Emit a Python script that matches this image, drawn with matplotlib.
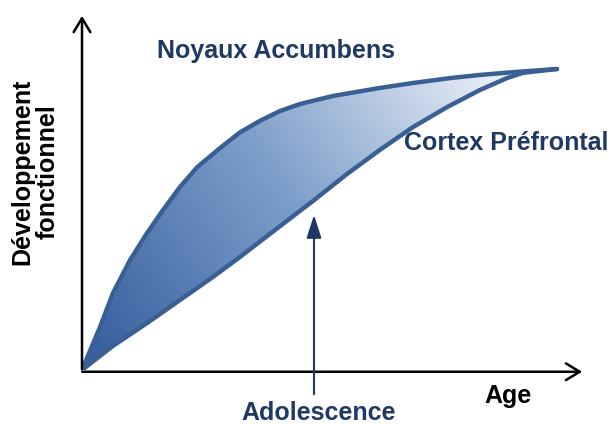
import matplotlib.pyplot as plt
import numpy as np
from matplotlib.colors import LinearSegmentedColormap
from matplotlib.patches import Polygon

# courbe des noyaux accumbens (age, developpement)
age_accumbens = [0, 0.72, 1.24, 1.92, 2.6, 3.24, 3.92, 4.6, 5.52, 6.32, 7.12, 7.92, 8.72,
                 10.04, 11.92, 13.24, 14.72, 15.92, 17.24, 19.0]
dev_accumbens = [0, 12.3, 22.0, 31.4, 39.1, 45.7, 52.3, 57.9, 63.4, 67.9, 71.2, 74.0, 76.0,
                 78.3, 80.6, 82.0, 83.4, 84.3, 85.1, 86.0]

# courbe du cortex prefrontal
age_cortex = [0, 1.24, 2.6, 3.92, 5.24, 6.32, 7.92, 9.24, 10.6, 11.92, 13.24, 14.6,
              15.92, 17.0, 17.64, 19.0]
dev_cortex = [0, 6.9, 13.4, 20.0, 26.6, 32.3, 41.1, 48.3, 56.0, 62.9, 69.4, 75.1,
              80.0, 83.4, 84.9, 86.0]

age_adolescence = 9.28
dev_adolescence = 45.1

line_col = "#3a5f94"
text_col = "#1f3864"

fig = plt.figure(figsize=(6.13, 4.24), dpi=100)
W, H = 613, 424
ax = fig.add_axes([82 / W, (424 - 370) / H, 500 / W, 350 / H])
ax.set_xlim(0, 20)
ax.set_ylim(0, 100)
ax.axis("off")

# remplissage en degrade entre les deux courbes
poly_pts = list(zip(age_accumbens, dev_accumbens)) + list(zip(age_cortex[::-1], dev_cortex[::-1]))
poly = Polygon(poly_pts, closed=True, facecolor="none", edgecolor="none")
ax.add_patch(poly)
xx, yy = np.meshgrid(np.linspace(0, 19, 300), np.linspace(0, 90, 300))
grad = (xx / 19) * 0.75 + (yy / 90) * 0.35
cmap = LinearSegmentedColormap.from_list("bl", ["#3a62a0", "#7e9fcb", "#eef2f8"])
im = ax.imshow(grad, extent=[0, 19, 0, 90], origin="lower", cmap=cmap, aspect="auto",
               vmin=0.05, vmax=1.0, zorder=1)
im.set_clip_path(poly)

ax.plot(age_accumbens, dev_accumbens, color=line_col, lw=3.2, solid_capstyle="round",
        solid_joinstyle="round", zorder=3)
ax.plot(age_cortex, dev_cortex, color=line_col, lw=3.2, solid_capstyle="round",
        solid_joinstyle="round", zorder=3)

# axes
ax.annotate("", xy=(0, 102), xytext=(0, -0.6),
            arrowprops=dict(arrowstyle="->,head_length=1.0,head_width=0.6", lw=1.8, color="black"),
            annotation_clip=False, zorder=4)
ax.annotate("", xy=(20.12, -0.5), xytext=(-0.1, -0.5),
            arrowprops=dict(arrowstyle="->,head_length=1.0,head_width=0.6", lw=1.8, color="black"),
            annotation_clip=False, zorder=4)

# fleche adolescence
ax.annotate("", xy=(age_adolescence, dev_adolescence), xytext=(age_adolescence, -7.7),
            arrowprops=dict(arrowstyle="-|>,head_length=1.4,head_width=0.45", lw=1.5, color=text_col),
            annotation_clip=False, zorder=4)

fp = dict(family="Liberation Sans", weight="bold", fontsize=18)
ax.text(9.48, -14.3, "Adolescence", color=text_col, ha="center", va="baseline", **fp)
ax.text(17.06, -9.4, "Age", color="black", ha="center", va="baseline", **fp)
ax.text(3.0, 89.1, "Noyaux Accumbens", color=text_col, ha="left", va="baseline", **fp)
ax.text(12.88, 62.9, "Cortex Préfrontal", color=text_col, ha="left", va="baseline", **fp)
ax.text(-1.88, 56.6, "Développement\nfonctionnel", color="black", ha="center",
        va="center", rotation=90, linespacing=1.1, **fp)

fig.savefig("out.png", dpi=100)
